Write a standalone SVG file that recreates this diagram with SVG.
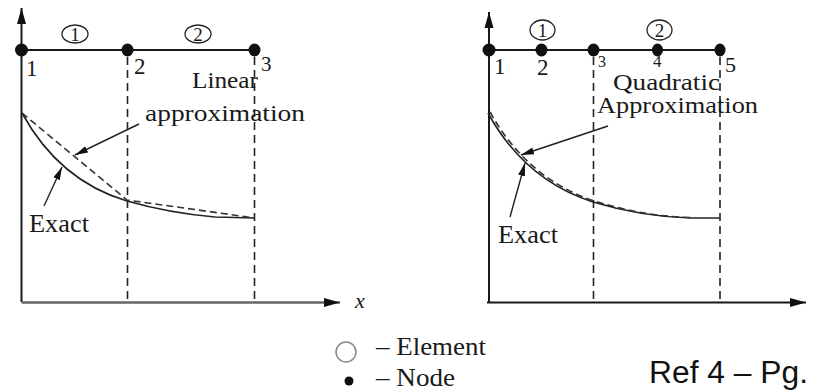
<svg xmlns="http://www.w3.org/2000/svg" width="816" height="390" viewBox="0 0 816 390">
<style>
  .ax{stroke:#1a1a1a;stroke-width:2;fill:none}
  .dash{stroke:#222;stroke-width:1.6;fill:none;stroke-dasharray:8,5}
  .curve{stroke:#222;stroke-width:1.6;fill:none}
  .appr{stroke:#333;stroke-width:1.6;fill:none;stroke-dasharray:7,4}
  .ptr{stroke:#222;stroke-width:1.4;fill:none}
  .node{fill:#111}
  .elem{fill:none;stroke:#222;stroke-width:1.3}
  .t{font-family:"Liberation Serif","Times New Roman",serif;fill:#1a1a1a}
  .d{font-family:"Liberation Serif","Times New Roman",serif;fill:#1a1a1a;font-size:19px;text-anchor:middle}
</style>
<defs>
  <marker id="axh" markerUnits="userSpaceOnUse" markerWidth="17" markerHeight="10" refX="16" refY="5" orient="auto">
    <path d="M0,0.5 L16,5 L0,9.5 z" fill="#111"/>
  </marker>
  <marker id="ah" markerUnits="userSpaceOnUse" markerWidth="14" markerHeight="8" refX="13" refY="4" orient="auto">
    <path d="M0,0.5 L13,4 L0,7.5 z" fill="#111"/>
  </marker>
</defs>
<rect width="816" height="390" fill="#fff"/>

<!-- Left plot -->
<g id="left-plot">
  <line class="ax" x1="21.5" y1="302" x2="21.5" y2="8" marker-end="url(#axh)"/>
  <line x1="21.5" y1="302.5" x2="340" y2="302.5" stroke="#666" stroke-width="2.5" marker-end="url(#axh)"/>
  <text class="t" x="355" y="308" font-size="22" font-style="italic">x</text>
  <line class="ax" x1="21.5" y1="50" x2="255" y2="50"/>
  <line class="dash" x1="127.5" y1="57" x2="127.5" y2="302"/>
  <line class="dash" x1="254.5" y1="57" x2="254.5" y2="302"/>
  <g id="L-node1"><ellipse class="node" cx="21.5" cy="50" rx="6.5" ry="6.5"/><text class="t" x="26" y="76" font-size="23">1</text></g>
  <g id="L-node2"><ellipse class="node" cx="127.5" cy="50" rx="6" ry="6.5"/><text class="t" x="134" y="74" font-size="23">2</text></g>
  <g id="L-node3"><ellipse class="node" cx="254.5" cy="50" rx="6" ry="6.5"/><text class="t" x="261" y="71" font-size="21">3</text></g>
  <g id="L-elem1"><ellipse class="elem" cx="75" cy="34" rx="13" ry="9"/><text class="d" x="75" y="40.5">1</text></g>
  <g id="L-elem2"><ellipse class="elem" cx="198" cy="34" rx="13" ry="9"/><text class="d" x="198" y="40.5">2</text></g>
  <path class="curve" d="M22,113 C45,155 80,187 127,201 C155,209 180,214 215,217 L255,218"/>
  <path class="appr" d="M22,113 L127,200 L255,218"/>
  <text class="t" x="192" y="88" font-size="23" textLength="66" lengthAdjust="spacingAndGlyphs">Linear</text>
  <text class="t" x="145" y="121" font-size="24" textLength="160" lengthAdjust="spacingAndGlyphs">approximation</text>
  <line class="ptr" x1="139" y1="124" x2="75" y2="155" marker-end="url(#ah)"/>
  <text class="t" x="29" y="232" font-size="25" textLength="60" lengthAdjust="spacingAndGlyphs">Exact</text>
  <line class="ptr" x1="44" y1="206" x2="62" y2="167" marker-end="url(#ah)"/>
</g>

<!-- Right plot -->
<g id="right-plot">
  <line class="ax" x1="489" y1="303" x2="489" y2="12" marker-end="url(#axh)"/>
  <line class="ax" x1="487" y1="302.5" x2="806" y2="302.5" marker-end="url(#axh)"/>
  <line class="ax" x1="489" y1="50" x2="720" y2="50"/>
  <line class="dash" x1="593.5" y1="57" x2="593.5" y2="302"/>
  <line class="dash" x1="720" y1="57" x2="720" y2="302"/>
  <g id="R-node1"><ellipse class="node" cx="489" cy="50" rx="6.5" ry="6.5"/><text class="t" x="494" y="74" font-size="23">1</text></g>
  <g id="R-node2"><ellipse class="node" cx="541.5" cy="50" rx="6" ry="6.5"/><text class="t" x="537" y="75" font-size="23">2</text></g>
  <g id="R-node3"><ellipse class="node" cx="593.5" cy="50" rx="6" ry="6.5"/><text class="t" x="598" y="67" font-size="16">3</text></g>
  <g id="R-node4"><ellipse class="node" cx="657.5" cy="50" rx="5.5" ry="6.5"/><text class="t" x="653" y="67" font-size="17">4</text></g>
  <g id="R-node5"><ellipse class="node" cx="720" cy="50" rx="5.5" ry="6.5"/><text class="t" x="725" y="72" font-size="22">5</text></g>
  <g id="R-elem1"><ellipse class="elem" cx="542.5" cy="30" rx="12.5" ry="10"/><text class="d" x="542.5" y="37">1</text></g>
  <g id="R-elem2"><ellipse class="elem" cx="659.5" cy="30" rx="12.5" ry="10"/><text class="d" x="659.5" y="37">2</text></g>
  <path class="curve" d="M488,113 C511,155 546,187 593,202 C626,212 656,217 691,218 L720,218"/>
  <path class="appr" d="M490,112 C512,152 546,185 593,200.5 C626,211 656,216.5 691,217.5" stroke-width="1.2"/>
  <text class="t" x="613" y="90" font-size="23" textLength="107" lengthAdjust="spacingAndGlyphs">Quadratic</text>
  <text class="t" x="597" y="113" font-size="23" textLength="161" lengthAdjust="spacingAndGlyphs">Approximation</text>
  <line class="ptr" x1="608" y1="126" x2="521" y2="155" marker-end="url(#ah)"/>
  <text class="t" x="498" y="243" font-size="25" textLength="60" lengthAdjust="spacingAndGlyphs">Exact</text>
  <line class="ptr" x1="510" y1="217" x2="525" y2="163" marker-end="url(#ah)"/>
</g>

<!-- Legend -->
<g id="legend">
  <circle cx="346" cy="352" r="10" fill="none" stroke="#888" stroke-width="1.5"/>
  <text class="t" x="376" y="355" font-size="26" textLength="110" lengthAdjust="spacingAndGlyphs">– Element</text>
  <circle cx="349" cy="381" r="4.5" fill="#111"/>
  <text class="t" x="376" y="386" font-size="25" textLength="79" lengthAdjust="spacingAndGlyphs">– Node</text>
</g>
<text x="649" y="383" font-family="Liberation Sans, Arial, sans-serif" font-size="31" fill="#111" textLength="159" lengthAdjust="spacingAndGlyphs">Ref 4 – Pg.</text>
</svg>
